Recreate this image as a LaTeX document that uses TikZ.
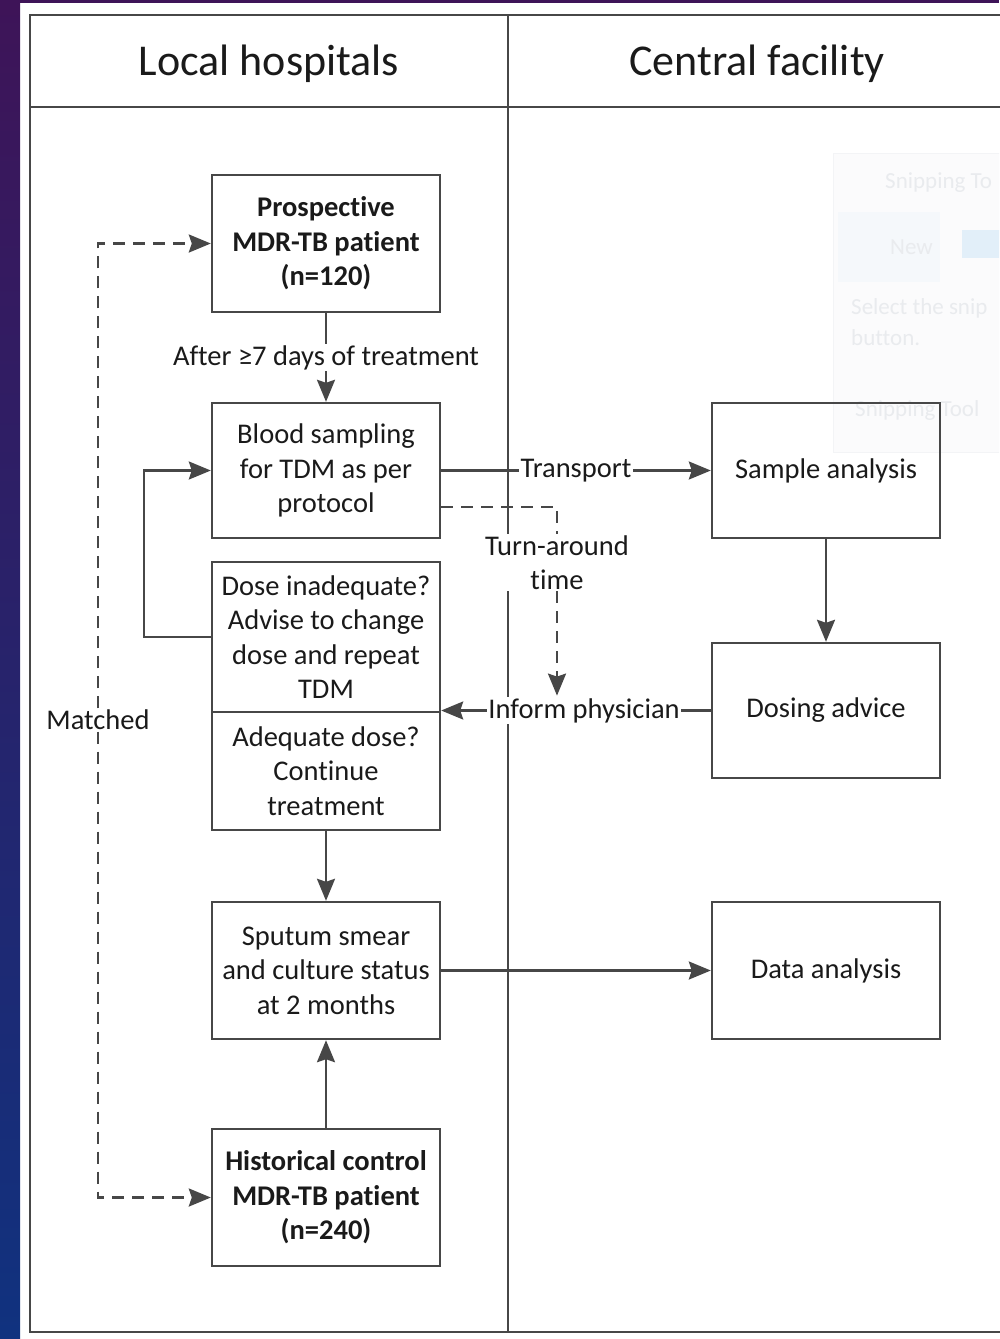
\documentclass[tikz,border=0pt]{standalone}
\usepackage{fontspec}
\setmainfont{Carlito}[Ligatures=NoCommon]
\usetikzlibrary{arrows.meta,calc}
\definecolor{linegray}{HTML}{474747}
\definecolor{txt}{HTML}{1A1A1A}
\definecolor{bgtop}{HTML}{3E1458}
\definecolor{bgbot}{HTML}{10327F}
\definecolor{ghost}{HTML}{E9EBEE}
\definecolor{ghostfill}{HTML}{FBFBFC}
\definecolor{ghostdraw}{HTML}{F3F4F6}
\definecolor{ghostbtn}{HTML}{F5F8FB}
\definecolor{ghostblue}{HTML}{E2EFF9}
\tikzset{
  arr/.style={-{Stealth[length=22pt,width=18pt,inset=3pt]}},
  conn/.style={draw=linegray,line width=2.4pt,arr},
  dl/.style={draw=linegray,line width=2.5pt,dash pattern=on 12pt off 8pt},
  box/.style={draw=linegray,line width=2.4pt,minimum width=228pt,align=center,inner sep=0pt,
    text=txt,font=\fontsize{28.5}{34.5}\selectfont},
  lbl/.style={fill=white,inner sep=1.5pt,text=txt,align=center,font=\fontsize{28.5}{34.5}\selectfont},
  head/.style={text=txt,font=\fontsize{44}{50}\selectfont},
  ghosttext/.style={text=ghost,anchor=west,font=\fontsize{23}{28}\selectfont,inner sep=0pt}
}
\begin{document}
\begin{tikzpicture}[x=1pt,y=-1pt]
\useasboundingbox (0,0) rectangle (999,1339);
% background
\fill[white] (0,0) rectangle (999,1339);
\fill[bgtop] (0,0) rectangle (999,3);
\shade[top color=bgtop,bottom color=bgbot] (0,0) rectangle (20,1339);
% faint screenshot overlay
\begin{scope}
\clip (0,0) rectangle (999,1339);
\filldraw[fill=ghostfill,draw=ghostdraw] (833,153) rectangle (1010,452);
\fill[ghostbtn] (838,212) rectangle (940,282);
\fill[ghostblue] (962,230) rectangle (1010,258);
\node[ghosttext] (g1) at (885,183) {Snipping To};
\node[ghosttext] (g2) at (890,247) {New};
\node[ghosttext] (g3) at (851,308) {Select the snip};
\node[ghosttext] (g4) at (851,338) {button.};
\node[ghosttext] (g5) at (855,410) {Snipping Tool};
\end{scope}
% frame
\draw[linegray,line width=2.4pt] (1010,15) -- (30,15) -- (30,1332) -- (1010,1332);
\draw[linegray,line width=2.4pt] (30,107) -- (1010,107);
\draw[linegray,line width=2pt] (508,15) -- (508,1332);
\node[head] (h1) at (269,64) {Local hospitals};
\node[head] (h2) at (757,64) {Central facility};
% boxes
\node[box,minimum height=137pt] (prosp) at (326,243.5) {\textbf{Prospective}\\\textbf{MDR-TB patient}\\\textbf{(n=120)}};
\node[box,minimum height=135pt] (blood) at (326,470.5) {Blood sampling\\for TDM as per\\protocol};
\node[box,minimum height=150pt] (doseA) at (326,637) {Dose inadequate?\\Advise to change\\dose and repeat\\TDM};
\node[box,minimum height=118pt] (doseB) at (326,771) {Adequate dose?\\Continue\\treatment};
\node[box,minimum height=137pt] (sputum) at (326,970.5) {Sputum smear\\and culture status\\at 2 months};
\node[box,minimum height=137pt] (hist) at (326,1197.5) {\textbf{Historical control}\\\textbf{MDR-TB patient}\\\textbf{(n=240)}};
\node[box,minimum height=135pt] (sample) at (826,470.5) {Sample analysis};
\node[box,minimum height=135pt] (dosing) at (826,710.5) {Dosing advice};
\node[box,minimum height=137pt] (data) at (826,970.5) {Data analysis};
% connectors
\draw[conn] (prosp.south) -- (blood.north) node[lbl,midway] (after) {After ≥7 days of treatment};
\draw[conn] (blood.east) -- (sample.west) node[lbl,midway] (transp) {Transport};
\draw[conn] (sample.south) -- (dosing.north);
\draw[conn] (dosing.west) -- (dosing.west -| doseA.east) node[lbl,pos=0.47] (inform) {Inform physician};
\node[lbl] (tat) at (557,562.5) {Turn-around\\time};
\coordinate (ts) at ($(blood.south east)+(0,-32)$);
\draw[dl] (ts) -| (tat.north);
\draw[dl,arr] (tat.south) -- (tat.south |- inform.north);
\draw[conn] (doseA.west) -- ++(-67,0) |- (blood.west);
\draw[conn] (doseB.south) -- (sputum.north);
\draw[conn] (hist.north) -- (sputum.south);
\draw[conn] (sputum.east) -- (data.west);
\node[lbl] (match) at (98,720) {Matched};
\draw[dl,arr] (match.north) |- (prosp.west);
\draw[dl,arr] (match.south) |- (hist.west);
\end{tikzpicture}
\end{document}
